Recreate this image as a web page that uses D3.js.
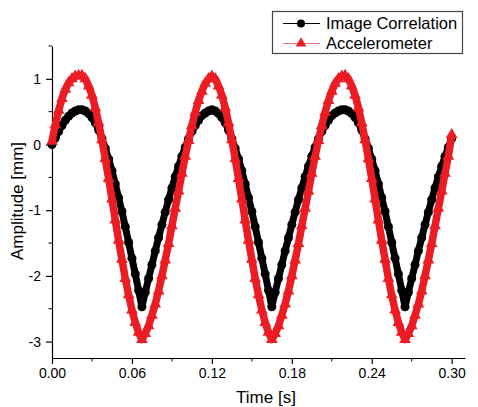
<!DOCTYPE html>
<html>
<head>
<meta charset="utf-8">
<script src="https://cdn.jsdelivr.net/npm/d3@7"></script>
<style>
  body { margin: 0; background: #fff; }
  svg { display: block; font-family: "Liberation Sans", Arial, sans-serif; }
</style>
</head>
<body>
<div id="chart"></div>
<script>
// Time samples [s]
const time = [
  0,0.0025,0.005,0.0075,0.01,0.0125,0.015,0.0175,0.02,0.0225,0.025,0.0275,0.03,0.0325,0.035,0.0375,0.04,0.0425,0.045,0.0475,
  0.05,0.0525,0.055,0.0575,0.06,0.0625,0.065,0.0675,0.07,0.0725,0.075,0.0775,0.08,0.0825,0.085,0.0875,0.09,0.0925,0.095,0.0975,
  0.1,0.1025,0.105,0.1075,0.11,0.1125,0.115,0.1175,0.12,0.1225,0.125,0.1275,0.13,0.1325,0.135,0.1375,0.14,0.1425,0.145,0.1475,
  0.15,0.1525,0.155,0.1575,0.16,0.1625,0.165,0.1675,0.17,0.1725,0.175,0.1775,0.18,0.1825,0.185,0.1875,0.19,0.1925,0.195,0.1975,
  0.2,0.2025,0.205,0.2075,0.21,0.2125,0.215,0.2175,0.22,0.2225,0.225,0.2275,0.23,0.2325,0.235,0.2375,0.24,0.2425,0.245,0.2475,
  0.25,0.2525,0.255,0.2575,0.26,0.2625,0.265,0.2675,0.27,0.2725,0.275,0.2775,0.28,0.2825,0.285,0.2875,0.29,0.2925,0.295,0.2975,
  0.3
]

// Image Correlation amplitude [mm]
const imageCorr = [
  0.00,0.10,0.20,0.29,0.37,0.43,0.48,0.51,0.53,
  0.53,0.51,0.47,0.41,0.33,0.22,0.09,-0.06,-0.22,-0.40,-0.60,-0.81,-1.02,-1.25,-1.49,-1.73,-1.97,-2.22,-2.47,
  -2.25,-2.04,-1.83,-1.62,-1.42,-1.22,-1.03,-0.84,-0.66,-0.49,-0.33,-0.18,-0.04,0.09,0.20,0.29,0.37,0.44,0.48,0.51,0.53,
  0.51,0.47,0.41,0.33,0.22,0.09,-0.06,-0.22,-0.40,-0.60,-0.81,-1.02,-1.25,-1.49,-1.73,-1.97,-2.22,-2.47,
  -2.25,-2.04,-1.83,-1.62,-1.42,-1.22,-1.03,-0.84,-0.66,-0.49,-0.33,-0.18,-0.04,0.09,0.20,0.29,0.37,0.44,0.48,0.51,0.53,
  0.53,
  0.51,0.47,0.41,0.33,0.22,0.09,-0.06,-0.22,-0.40,-0.60,-0.81,-1.02,-1.25,-1.49,-1.73,-1.97,-2.22,-2.47,
  -2.25,-2.04,-1.83,-1.62,-1.42,-1.22,-1.03,-0.84,-0.66,-0.49,-0.33,-0.18,-0.04,0.09
]

// Accelerometer amplitude [mm]
const accel = [
  0.05,0.30,0.52,0.70,0.84,0.94,1.00,1.04,1.05,
  1.05,1.00,0.89,0.75,0.56,0.33,0.07,-0.22,-0.52,-0.83,-1.15,-1.46,-1.75,-2.04,-2.29,-2.52,-2.71,-2.86,-2.97,
  -2.88,-2.76,-2.60,-2.43,-2.23,-2.00,-1.76,-1.51,-1.24,-0.97,-0.71,-0.44,-0.18,0.06,0.29,0.49,0.67,0.81,0.93,1.00,1.04,
  1.00,0.89,0.75,0.56,0.33,0.07,-0.22,-0.52,-0.83,-1.15,-1.46,-1.75,-2.04,-2.29,-2.52,-2.71,-2.86,-2.97,
  -2.88,-2.76,-2.60,-2.43,-2.23,-2.00,-1.76,-1.51,-1.24,-0.97,-0.71,-0.44,-0.18,0.06,0.29,0.49,0.67,0.81,0.93,1.00,1.04,
  1.05,
  1.00,0.89,0.75,0.56,0.33,0.07,-0.22,-0.52,-0.83,-1.15,-1.46,-1.75,-2.04,-2.29,-2.52,-2.71,-2.86,-2.97,
  -2.88,-2.76,-2.60,-2.43,-2.23,-2.00,-1.76,-1.51,-1.24,-0.97,-0.71,-0.44,-0.18,0.15
]

const xTicks = [0, 0.06, 0.12, 0.18, 0.24, 0.30]
const xMinor = [0.03, 0.09, 0.15, 0.21, 0.27]
const yTicks = [-3, -2, -1, 0, 1]
const yMinor = [-2.5, -1.5, -0.5, 0.5, 1.5]

const seriesNames = ["Image Correlation", "Accelerometer"]
const red = "#ec1c24"

// Chart dimensions
const W = 478, H = 407
const margin = {top: 46, right: 13, bottom: 49, left: 52}
const width = W - margin.left - margin.right
const height = H - margin.top - margin.bottom

const svg = d3.select("#chart").append("svg")
    .attr("width", W)
    .attr("height", H)

const g = svg.append("g")
    .attr("transform", "translate(" + margin.left + "," + margin.top + ")")

const x = d3.scaleLinear().domain([0, 0.31]).range([0, width])
const y = d3.scaleLinear().domain([-3.25, 1.5]).range([height, 0])

// axes
const xAxis = g.append("g")
    .attr("transform", "translate(0," + height + ")")
    .call(d3.axisBottom(x).tickValues(xTicks).tickSize(6).tickSizeOuter(0).tickPadding(4).tickFormat(d3.format(".2f")))
xAxis.selectAll(".minor").data(xMinor).join("line")
    .attr("class", "minor")
    .attr("x1", d => x(d)).attr("x2", d => x(d))
    .attr("y1", 0).attr("y2", 3.5)
    .attr("stroke", "#000")

const yAxis = g.append("g")
    .call(d3.axisLeft(y).tickValues(yTicks).tickSize(6).tickSizeOuter(0).tickPadding(5).tickFormat(d => String(d)))
yAxis.selectAll(".minor").data(yMinor).join("line")
    .attr("class", "minor")
    .attr("x1", 0).attr("x2", -3.5)
    .attr("y1", d => y(d)).attr("y2", d => y(d))
    .attr("stroke", "#000")

g.selectAll(".tick text").attr("font-size", 14).attr("fill", "#000")
g.selectAll(".domain, .tick line").attr("stroke", "#000").attr("stroke-width", 1.2)

// axis titles
svg.append("text")
    .attr("x", 266).attr("y", 403)
    .attr("text-anchor", "middle")
    .attr("font-size", 17)
    .text("Time [s]")
svg.append("text")
    .attr("transform", "translate(23,201) rotate(-90)")
    .attr("text-anchor", "middle")
    .attr("font-size", 17)
    .text("Amplitude [mm]")

const pts = (vals) => time.map((t, i) => ({t: t, v: vals[i]}))
const line = d3.line().x(d => x(d.t)).y(d => y(d.v))

// Image Correlation series
g.append("path")
    .datum(pts(imageCorr))
    .attr("fill", "none")
    .attr("stroke", "#000")
    .attr("stroke-width", 7)
    .attr("stroke-linejoin", "round")
    .attr("d", line)
g.selectAll(".dot").data(pts(imageCorr)).join("circle")
    .attr("class", "dot")
    .attr("cx", d => x(d.t)).attr("cy", d => y(d.v))
    .attr("r", 4.5)
    .attr("fill", "#000")

// Accelerometer series
const tri = d3.symbol().type(d3.symbolTriangle).size(60)
g.append("path")
    .datum(pts(accel))
    .attr("fill", "none")
    .attr("stroke", red)
    .attr("stroke-width", 7.5)
    .attr("stroke-linejoin", "round")
    .attr("d", line)
g.selectAll(".tri").data(pts(accel)).join("path")
    .attr("class", "tri")
    .attr("transform", d => "translate(" + x(d.t) + "," + y(d.v) + ")")
    .attr("d", tri)
    .attr("fill", red)

// legend
const legend = svg.append("g")
legend.append("rect")
    .attr("x", 272.5).attr("y", 11.5)
    .attr("width", 190).attr("height", 42)
    .attr("fill", "#fff")
    .attr("stroke", "#444")
    .attr("stroke-width", 1.2)

seriesNames.forEach((name, i) => {
    const ly = 23.5 + i * 20
    const col = i === 0 ? "#000" : red
    legend.append("line")
        .attr("x1", 283).attr("x2", 320)
        .attr("y1", ly).attr("y2", ly)
        .attr("stroke", col)
        .attr("stroke-opacity", i === 0 ? 1 : 0.6)
        .attr("stroke-width", 1)
    if (i === 0) {
        legend.append("circle").attr("cx", 301).attr("cy", ly).attr("r", 4).attr("fill", "#000")
    } else {
        legend.append("path")
            .attr("transform", "translate(301," + ly + ")")
            .attr("d", d3.symbol().type(d3.symbolTriangle).size(50))
            .attr("fill", red)
    }
    legend.append("text")
        .attr("x", 326).attr("y", ly)
        .attr("dy", "0.36em")
        .attr("font-size", 16.5)
        .text(name)
})
</script>
</body>
</html>
